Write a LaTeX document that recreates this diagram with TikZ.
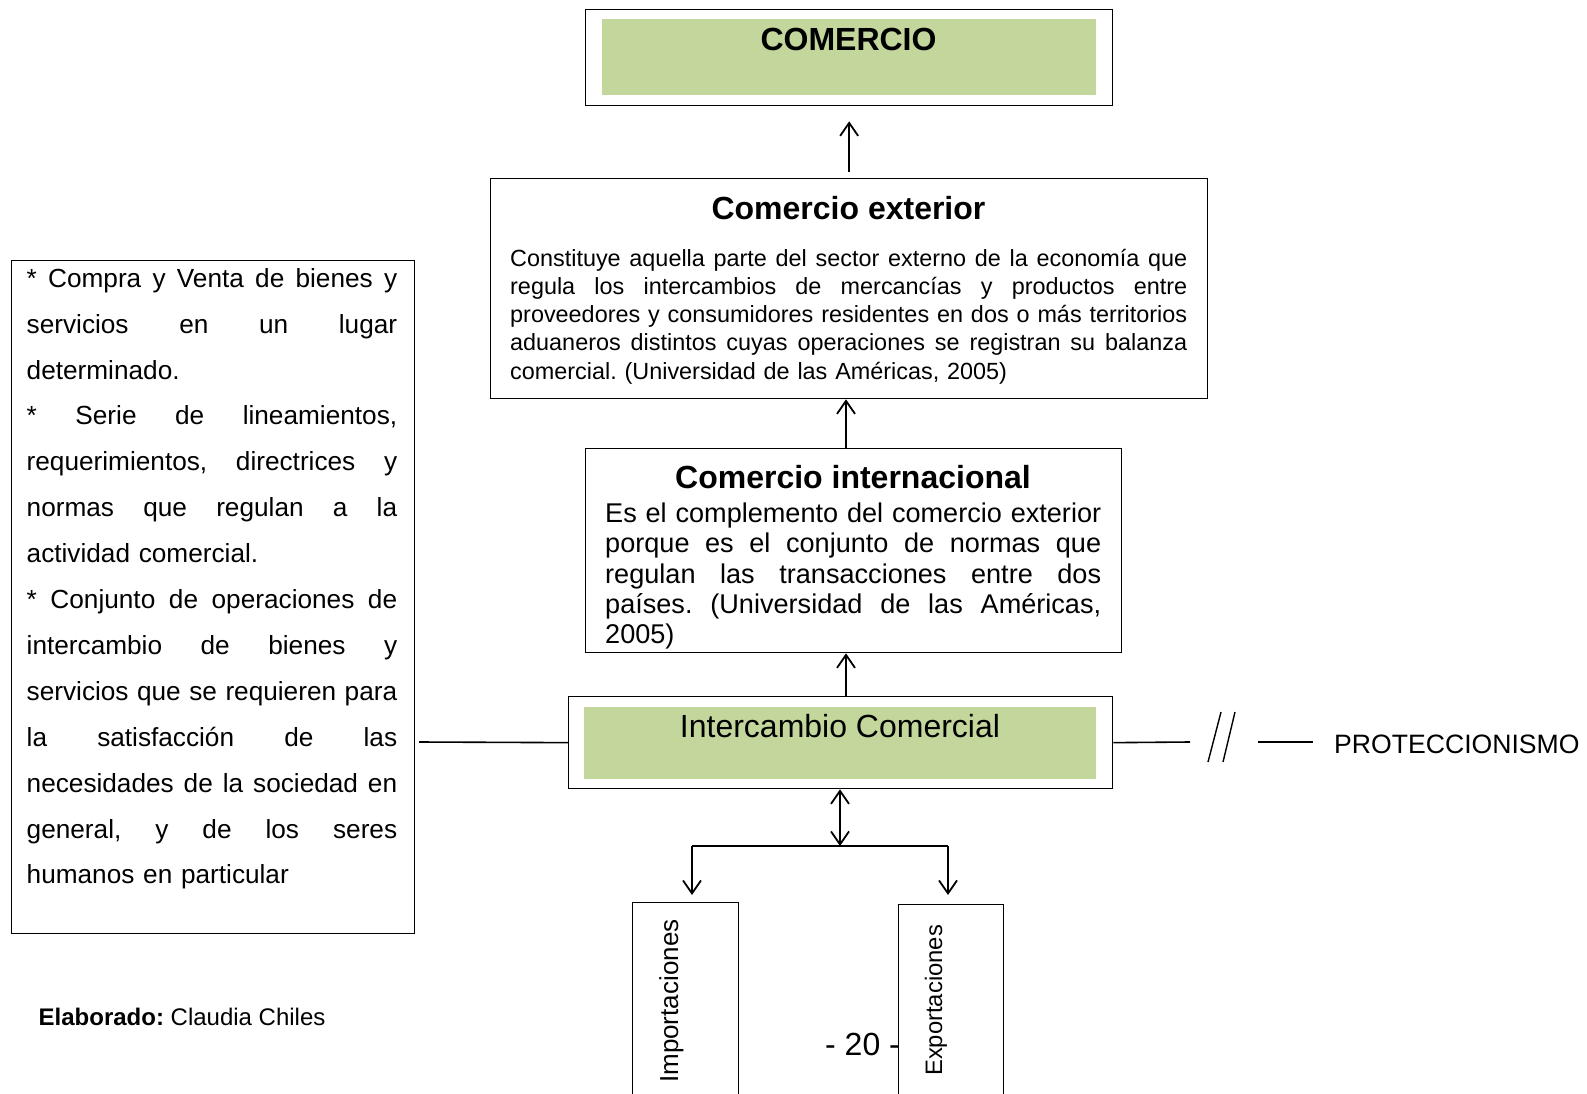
\documentclass[tikz,border=0pt]{standalone}
\usepackage{fontspec}
\setmainfont{Liberation Sans}
\usetikzlibrary{arrows.meta,calc}
\definecolor{leaf}{HTML}{C3D69B}
\newcommand\jline[2]{\leavevmode\hbox to #1{\spaceskip=0.28em plus 1fil\xspaceskip=\spaceskip #2}}
\begin{document}
\begin{tikzpicture}[x=1pt,y=-1pt,
  box/.style={draw, line width=1.3pt, inner sep=0pt, anchor=north west},
  fillbox/.style={fill=leaf, inner sep=0pt, anchor=north west},
  arr/.style={line width=1.8pt, -{Straight Barb[length=13pt,width=18pt]}},
  dbl/.style={line width=1.8pt, {Straight Barb[length=13pt,width=18pt]}-{Straight Barb[length=13pt,width=18pt]}},
  wire/.style={line width=1.6pt},
  txt/.style={inner sep=0pt, anchor=base},
  para/.style={inner sep=0pt, anchor=north west, align=left}]
\frenchspacing
\clip (0,0) rectangle (1587,1094);
\fill[white] (0,0) rectangle (1587,1094);

% COMERCIO
\node[box, minimum width=527pt, minimum height=96pt] (comBox) at (585,9) {};
\node[fillbox, minimum width=494pt, minimum height=76pt] (comFill) at (602,19) {};
\node[txt, font=\bfseries\fontsize{32}{38}\selectfont] (comTxt) at (848.5,50.5) {COMERCIO};

% Comercio exterior
\node[box, minimum width=717pt, minimum height=220pt] (ext) at (490,178) {};
\node[txt, font=\bfseries\fontsize{32}{38}\selectfont] (extTitle) at (848.5,219) {Comercio exterior};
\node[para, text width=677pt, font=\fontsize{23.4}{28.2}\selectfont\frenchspacing] (extBody) at (510,246) {\noindent\rule{0pt}{20pt}\jline{677pt}{Constituye aquella parte del sector externo de la economía que}\\
\jline{677pt}{regula los intercambios de mercancías y productos entre}\\
\jline{677pt}{proveedores y consumidores residentes en dos o más territorios}\\
\jline{677pt}{aduaneros distintos cuyas operaciones se registran su balanza}\\
comercial. (Universidad de las Américas, 2005)};

% Comercio internacional
\node[box, minimum width=536pt, minimum height=204pt] (int) at (585,448) {};
\node[txt, font=\bfseries\fontsize{32}{38}\selectfont] (intTitle) at (853,488) {Comercio internacional};
\node[para, text width=496pt, font=\fontsize{27.1}{30.4}\selectfont\frenchspacing] (intBody) at (605,498) {\noindent\rule{0pt}{24pt}\jline{496pt}{Es el complemento del comercio exterior}\\
\jline{496pt}{porque es el conjunto de normas que}\\
\jline{496pt}{regulan las transacciones entre dos}\\
\jline{496pt}{países. (Universidad de las Américas,}\\
2005)};

% Intercambio Comercial
\node[box, minimum width=544pt, minimum height=92pt] (ic) at (568,696) {};
\node[fillbox, minimum width=512pt, minimum height=72pt] (icFill) at (584,707) {};
\node[txt, font=\fontsize{32}{38}\selectfont] (icTxt) at (840,737) {Intercambio Comercial};

% Left box
\node[box, minimum width=403pt, minimum height=673pt] (left) at (11,260) {};
\node[para, text width=370.5pt, font=\fontsize{26.2}{45.9}\selectfont\frenchspacing] (leftBody) at (26.5,263) {\noindent\rule{0pt}{24pt}\jline{370.5pt}{* Compra y Venta de bienes y}\\
\jline{370.5pt}{servicios en un lugar}\\
determinado.\\
\jline{370.5pt}{* Serie de lineamientos,}\\
\jline{370.5pt}{requerimientos, directrices y}\\
\jline{370.5pt}{normas que regulan a la}\\
actividad comercial.\\
\jline{370.5pt}{* Conjunto de operaciones de}\\
\jline{370.5pt}{intercambio de bienes y}\\
\jline{370.5pt}{servicios que se requieren para}\\
\jline{370.5pt}{la satisfacción de las}\\
\jline{370.5pt}{necesidades de la sociedad en}\\
\jline{370.5pt}{general, y de los seres}\\
humanos en particular};

% Importaciones / Exportaciones
\node[box, minimum width=106pt, minimum height=220pt] (imp) at (632,902) {};
\node[box, minimum width=105pt, minimum height=220pt] (exp) at (898,904) {};
\node[inner sep=0pt, rotate=90, anchor=base west, font=\fontsize{26}{30}\selectfont] (impTxt) at (678,1083) {Importaciones};
\node[inner sep=0pt, rotate=90, anchor=base west, font=\fontsize{23.8}{28}\selectfont] (expTxt) at (942,1076) {Exportaciones};

% PROTECCIONISMO and other texts
\node[inner sep=0pt, anchor=base west, font=\fontsize{26.6}{30}\selectfont] (prot) at (1334,753) {PROTECCIONISMO};
\node[inner sep=0pt, anchor=base west, font=\fontsize{32}{38}\selectfont] (page) at (825,1055) {- 20 -};
\node[inner sep=0pt, anchor=base west, font=\fontsize{24}{28}\selectfont\frenchspacing] (credit) at (38.5,1025) {\textbf{Elaborado:} Claudia Chiles};

% coordinates
\coordinate (midx) at (846,0);
\coordinate (lineL) at (419,742);
\coordinate (lineR) at (1190,742);
\coordinate (dashA) at (1258,742);
\coordinate (dashB) at (1313,742);
\coordinate (split) at (840,846);
\coordinate (hl) at (692,846);
\coordinate (hr) at (948,846);
\coordinate (impTip) at (692,895);
\coordinate (expTip) at (948,895);

% connectors
\draw[arr] ($(ext.north)+(0,-6)$) -- ($(comBox.south)+(0,15)$);
\draw[arr] (int.north -| midx) -- (ext.south -| midx);
\draw[arr] (ic.north -| midx) -- (int.south -| midx);
\draw[dbl] (split) -- (ic.south -| split);
\draw[wire] (hl) -- (hr);
\draw[arr] (hl) -- (impTip);
\draw[arr] (hr) -- (expTip);
\draw[wire] (lineL) -- (ic.west);
\draw[wire] (ic.east) -- (lineR);
\draw[line width=1.4pt] (1208,762) -- (1221,712);
\draw[line width=1.4pt] (1223,762) -- (1235,712);
\draw[wire] (dashA) -- (dashB);
\end{tikzpicture}
\end{document}
